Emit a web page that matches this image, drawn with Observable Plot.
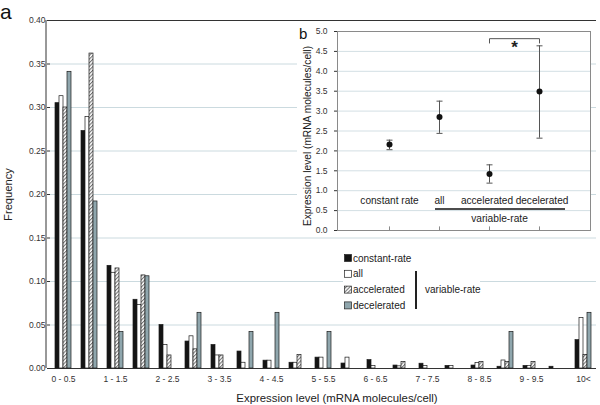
<!DOCTYPE html>
<html>
<head>
<meta charset="utf-8">
<script src="https://cdn.jsdelivr.net/npm/d3@7"></script>
<script src="https://cdn.jsdelivr.net/npm/@observablehq/plot@0.6"></script>
<style>
  html, body { margin: 0; padding: 0; background: #fff; }
  #wrap { position: relative; width: 600px; height: 405px; overflow: hidden; font-family: "Liberation Sans", Arial, sans-serif; }
  #main { position: absolute; left: 0; top: 0; }
  #inset { position: absolute; left: 297px; top: 21px; width: 294px; height: 216px; }
  #overlay { position: absolute; left: 0; top: 0; pointer-events: none; }
  g[aria-label="y-axis label"] text { font-size: 11.2px; fill: #222; }
</style>
</head>
<body>
<svg width="0" height="0" style="position:absolute">
  <defs>
    <pattern id="hatch" width="2.6" height="2.6" patternUnits="userSpaceOnUse" patternTransform="rotate(45)">
      <rect width="2.6" height="2.6" fill="#fff"></rect>
      <line x1="0.6" y1="0" x2="0.6" y2="2.6" stroke="#555" stroke-width="0.9"></line>
    </pattern>
  </defs>
</svg>
<div id="wrap">
  <div id="main"></div>
  <div id="inset"></div>
  <svg id="overlay" width="600" height="405"></svg>
</div>
<script>
// ---------- Panel a data ----------
const categories = ["0 - 0.5","0.5 - 1","1 - 1.5","1.5 - 2","2 - 2.5","2.5 - 3","3 - 3.5","3.5 - 4","4 - 4.5","4.5 - 5","5 - 5.5","5.5 - 6","6 - 6.5","6.5 - 7","7 - 7.5","7.5 - 8","8 - 8.5","8.5 - 9","9 - 9.5","9.5 - 10","10<"];
const shownLabels = ["0 - 0.5","1 - 1.5","2 - 2.5","3 - 3.5","4 - 4.5","5 - 5.5","6 - 6.5","7 - 7.5","8 - 8.5","9 - 9.5","10<"];
const seriesNames = ["constant-rate","all","accelerated","decelerated"];
const seriesFills = ["#141414","#ffffff","url(#hatch)","#8fa6ad"];
const constantRate = [0.305,0.273,0.118,0.079,0.050,0.031,0.027,0.0195,0.009,0.0066,0.0125,0.0057,0.0096,0.0034,0.0055,0.003,0.0034,0.002,0.003,0.002,0.0326];
const allRate      = [0.313,0.289,0.110,0.073,0.027,0.037,0.015,0.0066,0.009,0.0066,0.0125,0.0125,0.003,0.0025,0.003,0.003,0.0062,0.0092,0.003,0,0.058];
const accelerated  = [0.300,0.362,0.115,0.107,0.015,0.022,0.015,0,0,0.0154,0,0,0,0.0075,0,0,0.0075,0.0075,0.0075,0,0.0157];
const decelerated  = [0.341,0.192,0.042,0.106,0,0.064,0,0.042,0.064,0,0.042,0,0,0,0,0,0,0.042,0,0,0.064];
const yTicks = [0,0.05,0.10,0.15,0.20,0.25,0.30,0.35,0.40];
const gridTicks = [0.05,0.10,0.15,0.20,0.25,0.30,0.35];
const xTitle = "Expression level (mRNA molecules/cell)";
const yTitle = "Frequency";

// ---------- Panel b data ----------
const insetCats = ["constant rate","all","accelerated","decelerated"];
const insetMean = [2.16,2.85,1.42,3.49];
const insetLow  = [2.03,2.44,1.19,2.32];
const insetHigh = [2.27,3.25,1.65,4.64];
const insetTicks = [0,0.5,1,1.5,2,2.5,3,3.5,4,4.5,5];
const insetGrid = [0.5,1,1.5,2,2.5,3,3.5,4,4.5];
const insetLabelShift = [0, 0, -2.5, 2.5];
const sigPair = ["accelerated","decelerated"];
const sigLevel = 4.82, sigDrop = 4.70;

const FONT = '"Liberation Sans", Arial, sans-serif';

// ---------- main bar chart ----------
const seriesValues = [constantRate, allRate, accelerated, decelerated];
const rows = [];
categories.forEach((c, i) => seriesNames.forEach((s, j) => {
  const v = seriesValues[j][i];
  if (v > 0) rows.push({category: c, series: s, value: v});
}));

const main = Plot.plot({
  width: 600, height: 405,
  marginLeft: 46, marginRight: 0, marginTop: 20, marginBottom: 37,
  style: {fontFamily: FONT, fontSize: "8.5px", color: "#333", background: "transparent"},
  fx: {domain: categories, padding: 0, axis: "bottom", tickSize: 0, tickPadding: 7,
       tickFormat: d => shownLabels.includes(d) ? d : "", label: null},
  x: {domain: seriesNames, paddingInner: 0, paddingOuter: 0.64, axis: null},
  y: {domain: [0, 0.4], ticks: yTicks, tickFormat: d3.format(".2f"), tickSize: 3, tickPadding: 2,
      label: yTitle, labelAnchor: "center", labelArrow: "none", labelOffset: 46},
  color: {domain: seriesNames, range: seriesFills},
  marks: [
    Plot.gridY({ticks: gridTicks, stroke: "#cbdadf", strokeOpacity: 1}),
    Plot.ruleY([0, 0.4], {stroke: "#333", strokeWidth: 1}),
    Plot.barY(rows, {fx: "category", x: "series", y: "value", fill: "series", stroke: "#1a1a1a", strokeWidth: 0.7})
  ]
});
document.getElementById("main").appendChild(main);

// ---------- inset ----------
const insetRows = insetCats.map((c, i) => ({cat: c, mean: insetMean[i], low: insetLow[i], high: insetHigh[i], shift: insetLabelShift[i]}));
const cap = {draw(ctx) { ctx.moveTo(-3, 0); ctx.lineTo(3, 0); }};
const bracket = [
  {x1: sigPair[0], x2: sigPair[0], y1: sigDrop, y2: sigLevel},
  {x1: sigPair[0], x2: sigPair[1], y1: sigLevel, y2: sigLevel},
  {x1: sigPair[1], x2: sigPair[1], y1: sigLevel, y2: sigDrop}
];
const inset = Plot.plot({
  width: 294, height: 216,
  marginLeft: 40, marginRight: 1, marginTop: 10, marginBottom: 7,
  style: {fontFamily: FONT, fontSize: "8.5px", color: "#333", background: "transparent"},
  x: {domain: insetCats, type: "point", padding: 1, axis: null},
  y: {domain: [0, 5], ticks: insetTicks, tickFormat: d3.format(".1f"), tickSize: 3, tickPadding: 7, label: null},
  marks: [
    Plot.gridY({ticks: insetGrid, stroke: "#d3dfe4", strokeOpacity: 1}),
    Plot.frame({stroke: "#8a8a8a"}),
    Plot.ruleX(insetRows, {x: "cat", y1: 0, y2: 0.09, stroke: "#8a8a8a"}),
    Plot.ruleX(insetRows, {x: "cat", y1: "low", y2: "high", stroke: "#555", strokeWidth: 1}),
    Plot.dot(insetRows, {x: "cat", y: "low", symbol: cap, fill: "none", stroke: "#555", strokeWidth: 1}),
    Plot.dot(insetRows, {x: "cat", y: "high", symbol: cap, fill: "none", stroke: "#555", strokeWidth: 1}),
    Plot.dot(insetRows, {x: "cat", y: "mean", r: 3, fill: "#111", stroke: "none"}),
    Plot.link(bracket, {x1: "x1", x2: "x2", y1: "y1", y2: "y2", stroke: "#555", strokeWidth: 1}),
    Plot.text(["*"], {x: () => sigPair[0], y: () => sigLevel, dx: 25, dy: 2, lineAnchor: "top", fontSize: 17, fontWeight: "bold", fill: "#222"}),
    ...insetRows.map(r => Plot.text([r], {x: "cat", y: () => 0, text: "cat", dx: r.shift, dy: -30, fontSize: 10.1, fill: "#222"})),
    Plot.ruleY([0], {x1: () => "all", x2: () => "decelerated", dy: -21.5, insetLeft: -4, insetRight: -26, stroke: "#111", strokeWidth: 1.6}),
    Plot.text(["variable-rate"], {x: () => "accelerated", y: () => 0, dx: 10, dy: -12, fontSize: 10.2, fill: "#222"})
  ]
});
document.getElementById("inset").appendChild(inset);
// white backing for the inset, behind its svg
d3.select("#inset").style("background", "linear-gradient(#fff,#fff) no-repeat 0 0 / 294px 210px");

// ---------- overlay: axis line, titles, panel letters & legend ----------
const ov = d3.select("#overlay");
const ys = main.scale("y"), fxs = main.scale("fx");
const left = Math.min(...fxs.range);
ov.append("line").attr("x1", left).attr("x2", left).attr("y1", ys.apply(0)).attr("y2", ys.apply(0.4))
  .attr("stroke", "#333").attr("stroke-width", 1);
ov.append("text").attr("x", 337).attr("y", 402).attr("text-anchor", "middle").attr("font-size", 11.4)
  .attr("font-family", FONT).attr("fill", "#222").text(xTitle);
ov.append("text").attr("transform", "translate(311,136) rotate(-90)").attr("text-anchor", "middle").attr("font-size", 10.2)
  .attr("font-family", FONT).attr("fill", "#222").text(xTitle);
ov.append("text").attr("x", 0).attr("y", 19).attr("font-size", 21).attr("font-family", FONT).attr("fill", "#111").text("a");
ov.append("text").attr("x", 299).attr("y", 38.5).attr("font-size", 15).attr("font-family", FONT).attr("fill", "#111").text("b");
ov.append("rect").attr("x", 343).attr("y", 249).attr("width", 137).attr("height", 64).attr("fill", "#fff");
const legendY = [258, 273.8, 289.6, 305.4];
seriesNames.forEach((s, i) => {
  ov.append("rect").attr("x", 344.5).attr("y", legendY[i] - 3.5).attr("width", 7).attr("height", 7)
    .attr("fill", seriesFills[i]).attr("stroke", "#222").attr("stroke-width", 0.7);
  ov.append("text").attr("x", 353).attr("y", legendY[i]).attr("dy", "0.35em").attr("font-size", 10)
    .attr("font-family", FONT).attr("fill", "#222").text(s);
});
ov.append("line").attr("x1", 416).attr("x2", 416).attr("y1", 271).attr("y2", 309).attr("stroke", "#222").attr("stroke-width", 2);
ov.append("text").attr("x", 425).attr("y", 289.5).attr("dy", "0.35em").attr("font-size", 10)
  .attr("font-family", FONT).attr("fill", "#222").text("variable-rate");
</script>
</body>
</html>
